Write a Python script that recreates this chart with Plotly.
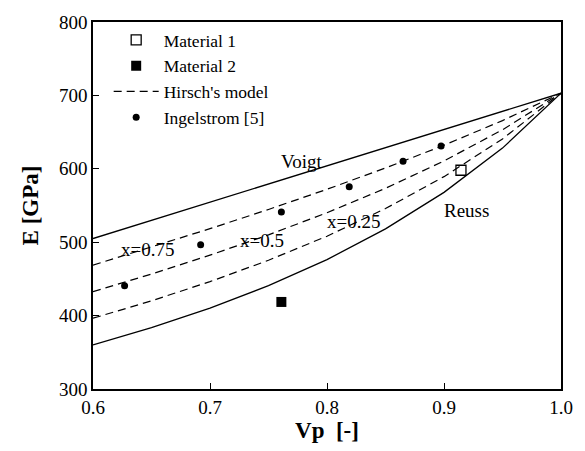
import plotly.graph_objects as go

# ---- data ----
vp = [0.60, 0.65, 0.70, 0.75, 0.80, 0.85, 0.90, 0.95, 1.00]
voigt = [505.0, 529.8, 554.5, 579.3, 604.0, 628.8, 653.5, 678.3, 703.0]
reuss = [360.2, 383.5, 410.2, 440.8, 476.3, 518.1, 567.9, 628.2, 703.0]
hirsch_075 = [468.8, 493.2, 518.4, 544.6, 572.1, 601.1, 632.1, 665.7, 703.0]
hirsch_050 = [432.6, 456.6, 482.4, 510.0, 540.2, 573.4, 610.7, 653.2, 703.0]
hirsch_025 = [396.4, 420.1, 446.3, 475.4, 508.2, 545.8, 589.3, 640.7, 703.0]

mat1_vp = [0.9145]
mat1_e = [598]
mat2_vp = [0.761]
mat2_e = [418.6]

ingel_vp = [0.627, 0.692, 0.761, 0.819, 0.865, 0.8975]
ingel_e = [440.8, 496.5, 541.0, 575.4, 610.2, 631.1]

labels = ["Voigt", "x=0.75", "x=0.5", "x=0.25", "Reuss"]
label_x = [0.7788, 0.6467, 0.7448, 0.8225, 0.9193]
label_y = [610, 490.5, 502, 528.6, 542.6]

x_ticks = [0.6, 0.7, 0.8, 0.9, 1.0]
x_ticktext = ["0.6", "0.7", "0.8", "0.9", "1.0"]
y_ticks = [300, 400, 500, 600, 700, 800]

FONT = "Liberation Serif"
DASH = "8px,5px"

fig = go.Figure()
fig.add_trace(go.Scatter(x=vp, y=voigt, mode="lines", line=dict(color="black", width=1.3),
                         showlegend=False, hoverinfo="skip"))
fig.add_trace(go.Scatter(x=vp, y=reuss, mode="lines", line=dict(color="black", width=1.3),
                         showlegend=False, hoverinfo="skip"))
fig.add_trace(go.Scatter(x=mat1_vp, y=mat1_e, mode="markers", name="Material 1",
                         marker=dict(symbol="square-open", size=10, color="black",
                                     line=dict(width=1.3, color="black"))))
fig.add_trace(go.Scatter(x=mat2_vp, y=mat2_e, mode="markers", name="Material 2",
                         marker=dict(symbol="square", size=10, color="black")))
fig.add_trace(go.Scatter(x=vp, y=hirsch_075, mode="lines", name="Hirsch's model",
                         legendgroup="h", line=dict(color="black", width=1.2, dash=DASH)))
fig.add_trace(go.Scatter(x=vp, y=hirsch_050, mode="lines", name="Hirsch's model",
                         legendgroup="h", showlegend=False,
                         line=dict(color="black", width=1.2, dash=DASH)))
fig.add_trace(go.Scatter(x=vp, y=hirsch_025, mode="lines", name="Hirsch's model",
                         legendgroup="h", showlegend=False,
                         line=dict(color="black", width=1.2, dash=DASH)))
fig.add_trace(go.Scatter(x=ingel_vp, y=ingel_e, mode="markers", name="Ingelstrom [5]",
                         marker=dict(symbol="circle", size=7, color="black")))

for t, x, y in zip(labels, label_x, label_y):
    fig.add_annotation(x=x, y=y, text=t, showarrow=False,
                       font=dict(family=FONT, size=19, color="black"))

fig.update_layout(
    width=585, height=451,
    margin=dict(l=93, r=21, t=18, b=59),
    paper_bgcolor="white", plot_bgcolor="white",
    font=dict(family=FONT, size=19, color="black"),
    legend=dict(x=0.0335, y=1.0, xanchor="left", yanchor="top",
                bgcolor="rgba(0,0,0,0)", font=dict(family=FONT, size=17.5, color="black"),
                itemwidth=45, tracegroupgap=0),
)
fig.update_xaxes(range=[0.6, 1.0], tickvals=x_ticks, ticktext=x_ticktext,
                 ticks="inside", ticklen=6, tickwidth=1.2, tickcolor="black",
                 tickfont=dict(family=FONT, size=19, color="black"),
                 showline=True, linecolor="black", linewidth=1.5, mirror=True,
                 showgrid=False, zeroline=False,
                 title=dict(text="<b>Vp\u00a0\u00a0[-]</b>", font=dict(family=FONT, size=23),
                            standoff=5))
fig.update_yaxes(range=[300, 800], tickvals=y_ticks,
                 ticks="inside", ticklen=6, tickwidth=1.2, tickcolor="black",
                 tickfont=dict(family=FONT, size=19, color="black"),
                 showline=True, linecolor="black", linewidth=1.5, mirror=True,
                 showgrid=False, zeroline=False,
                 title=dict(text="<b>E [GPa]</b>", font=dict(family=FONT, size=23),
                            standoff=14))

fig.write_html("out.html")
